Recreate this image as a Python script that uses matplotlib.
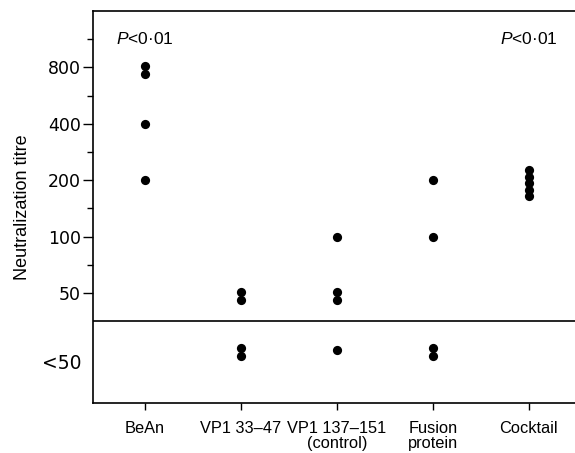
import numpy as np
import matplotlib.pyplot as plt

plt.rcParams['font.family'] = ['Liberation Sans', 'DejaVu Sans']
plt.rcParams['mathtext.fontset'] = 'custom'
plt.rcParams['mathtext.it'] = 'Liberation Sans:italic'
plt.rcParams['mathtext.rm'] = 'Liberation Sans'

# Data (25 stands for "<50", below detection)
groups = ['BeAn', 'VP1 33\u201347', 'VP1 137\u2013151\n(control)', 'Fusion\nprotein', 'Cocktail']
bean = [800, 800, 400, 200]
vp1_33 = [50, 50, 25, 25]
vp1_137 = [100, 50, 50, 25]
fusion = [200, 100, 25, 25]
cocktail = [200, 200, 200, 200, 200]
titres = [bean, vp1_33, vp1_137, fusion, cocktail]
tick_vals = [50, 100, 200, 400, 800]
p_labels = ['$\\it{P}$<0·01', '', '', '', '$\\it{P}$<0·01']

def pos(v):
    return np.log2(v / 50.0)

fig = plt.figure(figsize=(5.75, 4.53), dpi=100)
ax = fig.add_axes([0.162, 0.110, 0.838, 0.866])

for i, vals in enumerate(titres):
    for v in sorted(set(vals)):
        n = vals.count(v)
        if n == 1:
            ys = np.array([pos(v)])
        else:
            step = 0.115 if n > 2 else 0.145
            ys = pos(v) - (np.arange(n) - (n - 1) / 2) * step - 0.05
        ax.scatter([i] * n, ys, s=44, color='black', zorder=3, linewidths=0)
    if p_labels[i]:
        ax.text(i, 4.5, p_labels[i], ha='center', va='center', fontsize=12.5)

# divider between measured titres and "<50"
ax.axhline(-0.5, color='black', lw=1.2)
ax.text(-0.66, -1.24, '<50', ha='right', va='center', fontsize=13.5,
        family='DejaVu Sans', clip_on=False)

ax.set_xlim(-0.54, 4.48)
ax.set_ylim(-1.95, 5)
ax.set_xticks(range(len(groups)))
ax.set_xticklabels(groups, fontsize=11.8, linespacing=0.95)
ax.set_yticks(pos(np.array(tick_vals, dtype=float)))
ax.set_yticklabels([str(t) for t in tick_vals], fontsize=12.5, family='DejaVu Sans')
ax.set_yticks(np.arange(0.5, 5, 1.0), minor=True)
ax.tick_params(axis='y', which='major', length=7, width=1, pad=2)
ax.tick_params(axis='y', which='minor', length=4, width=1)
ax.tick_params(axis='x', length=5, width=1, pad=8)
ax.set_ylabel('Neutralization titre', fontsize=13, labelpad=12)

ax.spines['right'].set_visible(False)
for s in ['left', 'bottom', 'top']:
    ax.spines[s].set_linewidth(1.2)

fig.savefig('out.png', dpi=100)
